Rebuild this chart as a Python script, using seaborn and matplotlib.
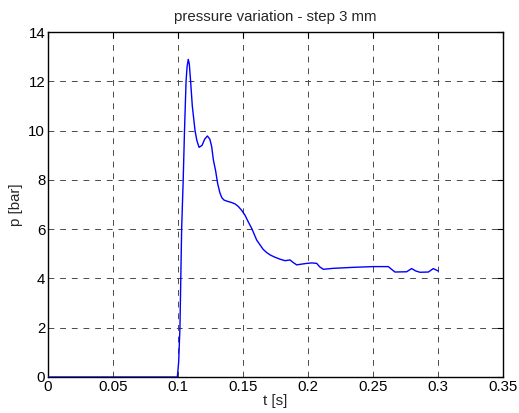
import matplotlib
matplotlib.use("Agg")
import matplotlib.pyplot as plt
import seaborn as sns
import pandas as pd

t_s = [0.0, 0.05, 0.0995, 0.1005, 0.1015, 0.1028, 0.104, 0.105, 0.1062, 0.107,
       0.1079, 0.1087, 0.1097, 0.111, 0.1131, 0.1145, 0.1162, 0.1185, 0.1205, 0.1226,
       0.1245, 0.1259, 0.1272, 0.129, 0.1305, 0.1323, 0.1338, 0.1354, 0.138, 0.1413,
       0.144, 0.1464, 0.149, 0.1515, 0.154, 0.1567, 0.1605, 0.1631, 0.1655, 0.1682,
       0.171, 0.1746, 0.1785, 0.1823, 0.1862, 0.1885, 0.1913, 0.195, 0.199, 0.203,
       0.2067, 0.209, 0.2118, 0.2195, 0.2349, 0.2503, 0.2618, 0.2645, 0.2669, 0.2759,
       0.2797, 0.283, 0.2862, 0.2926, 0.2964, 0.3002]
p_bar = [0.0, 0.0, 0.0, 0.6, 2.0, 6.0, 8.0, 10.0, 12.0, 12.6,
         12.89, 12.7, 12.0, 11.0, 10.0, 9.6, 9.32, 9.4, 9.65, 9.78,
         9.65, 9.35, 8.81, 8.35, 7.85, 7.46, 7.27, 7.18, 7.13, 7.08,
         7.02, 6.92, 6.76, 6.57, 6.3, 6.03, 5.56, 5.36, 5.18, 5.05,
         4.95, 4.86, 4.78, 4.72, 4.75, 4.65, 4.55, 4.58, 4.61, 4.63,
         4.61, 4.47, 4.37, 4.41, 4.45, 4.48, 4.48, 4.36, 4.26, 4.27,
         4.40, 4.30, 4.25, 4.26, 4.40, 4.30]

x_ticks = [0, 0.05, 0.1, 0.15, 0.2, 0.25, 0.3, 0.35]
x_labels = ["0", "0.05", "0.1", "0.15", "0.2", "0.25", "0.3", "0.35"]
y_ticks = [0, 2, 4, 6, 8, 10, 12, 14]

sns.set_style("white")
plt.rcParams['font.family'] = ['Liberation Sans', 'DejaVu Sans']

df = pd.DataFrame({"t": t_s, "p": p_bar})

fig = plt.figure(figsize=(5.19, 4.13), dpi=100)
ax = fig.add_axes([48 / 519, 1 - 377 / 413, (503 - 48) / 519, (377 - 32) / 413])

sns.lineplot(data=df, x="t", y="p", ax=ax, color="#0000ff", linewidth=1.0,
             estimator=None, sort=False, zorder=3)

ax.set_xlim(0, 0.35)
ax.set_ylim(0, 14)
ax.set_xticks(x_ticks)
ax.set_xticklabels(x_labels)
ax.set_yticks(y_ticks)
ax.grid(True, color="#4a4a4a", linestyle=(0, (6, 6)), linewidth=0.7)
ax.tick_params(direction="in", length=4, width=0.8, top=True, right=True,
               labelsize=10.8, colors="black", pad=2)
for s in ax.spines.values():
    s.set_visible(True)
    s.set_color("black")
    s.set_linewidth(1.0)

ax.set_xlabel("t [s]", fontsize=10.8, labelpad=0)
ax.set_ylabel("p [bar]", fontsize=10.8, labelpad=4)
ax.set_title("pressure variation - step 3 mm", fontsize=10.8, pad=8)

fig.savefig("out.png", dpi=100, facecolor="white")
